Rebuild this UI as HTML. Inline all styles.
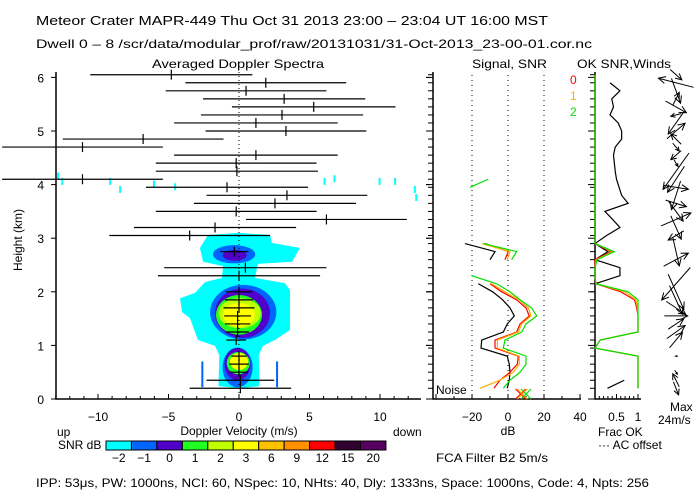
<!DOCTYPE html>
<html><head><meta charset="utf-8"><style>
body{margin:0;background:#fff}
svg{display:block;font-family:"Liberation Sans",sans-serif;font-size:12px}
</style></head><body>
<svg id="c" width="700" height="500" viewBox="0 0 700 500">
<g>
<text x="36" y="25" textLength="512" lengthAdjust="spacingAndGlyphs" font-size="13">Meteor Crater  MAPR-449  Thu Oct 31 2013 23:00 – 23:04 UT 16:00 MST</text>
<text x="36" y="48" textLength="556" lengthAdjust="spacingAndGlyphs">Dwell  0 –  8   /scr/data/modular_prof/raw/20131031/31-Oct-2013_23-00-01.cor.nc</text>
<text x="152" y="68" textLength="172" lengthAdjust="spacingAndGlyphs">Averaged Doppler Spectra</text>
<text x="472" y="68" textLength="75" lengthAdjust="spacingAndGlyphs">Signal, SNR</text>
<text x="577" y="68" textLength="94" lengthAdjust="spacingAndGlyphs">OK SNR,Winds</text>
</g>
<g id="spec"></g>
<g id="sig"></g>
<g id="ok"></g>
<g id="wind"></g>
<g id="cbar"></g>
<g>
<text x="239" y="435" text-anchor="middle">Doppler Velocity (m/s)</text>
<text x="57" y="436">up</text>
<text x="393" y="436">down</text>
<text x="58" y="449">SNR dB</text>
<text x="508" y="435" text-anchor="middle">dB</text>
<text x="436" y="462" textLength="112" lengthAdjust="spacingAndGlyphs">FCA Filter B2   5m/s</text>
<text x="598" y="436">Frac OK</text>
<text x="598" y="449">··· AC offset</text>
<text x="670" y="411">Max</text>
<text x="658" y="424">24m/s</text>
<text x="436" y="394">Noise</text>
<text x="570" y="84" fill="#ff0000">0</text>
<text x="570" y="100" fill="#ffb000">1</text>
<text x="570" y="116" fill="#00e000">2</text>
<text x="36" y="487" textLength="613" lengthAdjust="spacingAndGlyphs">IPP:  53μs,  PW: 1000ns,  NCI:  60,  NSpec: 10, NHts: 40,  Dly: 1333ns,  Space: 1000ns,  Code: 4,  Npts: 256</text>
<text transform="translate(22,240) rotate(-90)" text-anchor="middle">Height (km)</text>
</g>
</svg>
<script>
// ---- data ----
const gateHeights = [0.2,0.35,0.5,0.65,0.8,0.95,1.1,1.25,1.4,1.55,1.7,1.85,2.0,2.15,2.3,2.45,2.6,2.75,2.9,3.05,3.2,3.35,3.5,3.65,3.8,3.95,4.1,4.25,4.4,4.55,4.7,4.85,5.0,5.15,5.3,5.45,5.6,5.75,5.9,6.05];
const velMean = [0.1,0.1,0,0,0,null,-0.2,-0.1,-0.1,-0.1,0,0,0,null,0,0.45,null,-0.33,null,-3.5,-1.7,6.2,-0.2,2.55,3.4,-0.85,-11.1,-0.15,-0.2,1.2,-11.1,-6.8,3.33,1.2,3.05,5.3,3.2,0.5,1.9,-4.8];
const velHalfWidth = [3.6,2.4,0.65,0.7,0.55,null,0.7,0.8,0.9,0.95,1.1,1.0,0.95,null,5.75,5.75,null,1.0,null,5.7,5.75,5.7,5.7,5.75,5.7,5.75,5.7,5.75,5.7,5.8,5.7,5.7,5.7,5.8,5.75,5.8,5.75,5.7,5.7,5.75];
const velTicks = [-10,-5,0,5,10];
const heightTicks = [0,1,2,3,4,5,6];
const cyanContour = [[-2.2,3.06],[-0.07,3.1],[2.2,3.06],[2.34,2.91],[4.33,2.82],[3.76,2.56],[1.35,2.52],[1.13,2.26],[3.26,2.16],[3.62,2.03],[3.62,1.29],[2.55,1.1],[1.7,0.99],[1.4,0.82],[1.45,0.24],[0.07,0.2],[-1.45,0.24],[-1.4,0.82],[-1.7,0.99],[-2.91,1.1],[-3.48,1.51],[-4.04,1.62],[-4.18,1.88],[-3.12,1.98],[-2.41,2.18],[-1.21,2.26],[-1.13,2.48],[-2.55,2.56],[-2.77,2.82]];
// [v, h, rv, rh, level]
const blobs = [[-0.35,2.7,1.5,0.17,1],[-0.3,2.68,0.85,0.1,2],[0.3,1.62,2.35,0.51,1],[0.25,1.6,1.95,0.46,2],[0,1.57,1.63,0.37,3],[0.05,1.6,1.5,0.28,4],[0,1.57,1.13,0.22,5],[-0.1,0.59,1.07,0.37,1],[-0.1,0.65,0.92,0.3,2],[-0.05,0.67,0.82,0.21,3],[0,0.7,0.64,0.16,5]];
const specks = [[-12.9,4.15],[-12.6,4.05],[-9.2,4.05],[-6.1,4.0],[-8.5,3.9],[6.0,4.05],[6.7,4.1],[9.9,4.05],[11.0,4.05],[12.4,3.9],[12.5,3.75],[-4.6,3.95]];
const cbarLabels = ["-2","-1","0","1","2","3","6","9","12","15","20"];
const cbarColors = ["#00ffff","#0064ff","#5000c8","#20ff20","#c0ff00","#ffff00","#ffc000","#ff9000","#ff0000","#300030","#580060"];
const snrBlack = [-0.4,0.7,1.1,0.7,-0.4,-15,-14.6,-2.6,-0.4,3.5,1.1,-3,-8.5,-16.5,null,null,-10,-7.2,-23.9];
const snrRed = [-7.8,-4.5,1.1,5.2,5.7,-7.2,-7.2,4.8,6.7,11.8,10,4.8,-3.5,-10,null,null,-1.7,0.2,-12.8];
const snrOrange = [-15.6,-4.5,3,6.3,6.3,-5.9,-5.9,5.7,7.6,12.8,11.3,6.3,-1.7,-9.1,null,null,-0.4,1.1,-14.6];
const snrGreen = [-2.6,1.1,6.7,10,10,-2.6,-1.7,7.6,10,15.9,13.1,6.7,1.1,-6.3,-20.2,null,2,4.8,-13.7,null,null,null,null,null,null,-21.1,-11];
const noiseDb = [7,8,10];
const dbTicks = [-40,-30,-20,-10,0,10,20,30,40];
const dbLabels = [-20,0,20,40];
const fracGreen = [1,1,1,1,1,0,0.12,1,1,1,1,1,0.77,0.02,0,0,0.05,0.45,0,0,0,0,0,0,0,0,0,0,0,0,0,0,0,0,0,0,0,0,0,0];
const fracRed = [1,1,1,1,1,0,0.12,1,1,1,0.97,0.92,0.6,0.02,0,0,0,0.38,0,0,0,0,0,0,0,0,0,0,0,0,0,0,0,0,0,0,0,0,0,0];
const fracOrange = [1,1,1,1,1,0,0.12,1,1,1,0.99,0.95,0.7,0.02,0,0,0.03,0.42,0,0,0,0,0,0,0,0,0,0,0,0,0,0,0,0,0,0,0,0,0,0];
const fracBlack = [0.29,0.68,null,null,null,null,null,null,null,null,null,null,null,0,0.58,0.58,0,0.3,0,0.27,0.58,0.41,0.23,0.77,0.62,0.56,0.5,0.47,0.45,0.43,0.47,0.62,0.62,0.54,0.35,0.43,0.39,0.58,0.35,null];
const windU = [4,-5,2,null,2,null,10,14,12,18,15,10,12,-22,null,null,19,5,null,-12,8,23,11,16,-7,19,-13,-20,3,-8,5,-8,14,-12,-8,16,5,7,-27,9];
const windV = [-10,10,-3,null,0,null,12,10,8,0,-10,-22,-27,-25,null,null,10,-22,null,-7,-18,10,-15,-5,-22,-3,-20,-28,-5,-7,-6,8,12,-17,-2,-9,10,-19,7,-8];

// ---- scales ----
const xV = v => 239 + v*14.1;
const yH = h => 399 - h*53.6;
const xS = d => 508 + d*1.8;
const xF = f => 595 + f*43;
const NS = "http://www.w3.org/2000/svg";
function mk(parent, tag, attrs, text){
  const e = document.createElementNS(NS, tag);
  for (const k in attrs) e.setAttribute(k, attrs[k]);
  if (text !== undefined) e.textContent = text;
  parent.appendChild(e);
  return e;
}
const spec = document.getElementById('spec');
const sig = document.getElementById('sig');
const ok = document.getElementById('ok');
const wind = document.getElementById('wind');
const cbar = document.getElementById('cbar');

let el = mk(spec,'polygon',{points: cyanContour.map(p=>xV(p[0])+','+yH(p[1])).join(' '), fill:'#00ffff'});


specks.forEach(p=>{
  const s = mk(spec,'rect',{x:xV(p[0]),y:yH(p[1])-4,width:2,height:7,fill:'#00ffff'});
  
  
});
[-2.6,2.7].forEach(v=>{
  const s = mk(spec,'rect',{x:xV(v)-1,y:yH(0.7),width:2,height:yH(0.22)-yH(0.7),fill:'#0064ff'});
  
  
});
blobs.forEach(b=>{
  const e = mk(spec,'ellipse',{cx:xV(b[0]),cy:yH(b[1]),rx:b[2]*14.1,ry:b[3]*53.6,fill:cbarColors[b[4]]});
  
  
});
el = mk(spec,'line',{x1:xV(0),y1:72,x2:xV(0),y2:399,stroke:'#000','stroke-dasharray':'1,3'});


velMean.forEach((m,k)=>{
  if (m===null) return;
  const y = yH(gateHeights[k]), w = velHalfWidth[k];
  const g = mk(spec,'g',{stroke:'#000','stroke-width':1.2});
  
  
  mk(g,'line',{x1:Math.max(2,xV(m-w)),y1:y,x2:xV(m+w),y2:y});
  mk(g,'line',{x1:xV(m),y1:y-5,x2:xV(m),y2:y+5});
});
el = mk(spec,'path',{d:'M56,72V399H421',stroke:'#000',fill:'none','stroke-width':1.5});


heightTicks.forEach(h=>{
  mk(spec,'line',{x1:51,y1:yH(h),x2:56,y2:yH(h),stroke:'#000'});
  mk(spec,'line',{x1:426,y1:yH(h),x2:430,y2:yH(h),stroke:'#000'});
  const t = mk(spec,'text',{x:44,y:yH(h)+5,'text-anchor':'end'},String(h));
  
  
});
for (let v=-13; v<=12; v++){
  const major = v%5===0;
  mk(spec,'line',{x1:xV(v),y1:399,x2:xV(v),y2:major?394:396,stroke:'#000'});
}
velTicks.forEach(v=>{
  const t = mk(spec,'text',{x:xV(v),y:421,'text-anchor':'middle'},String(v).replace('-','−'));
  
  
});

el = mk(sig,'path',{d:'M433,72V399H581',stroke:'#000',fill:'none','stroke-width':1.5});


gateHeights.forEach(h=>mk(sig,'line',{x1:428,y1:yH(h),x2:433,y2:yH(h),stroke:'#000'}));
heightTicks.forEach(h=>mk(sig,'line',{x1:426,y1:yH(h),x2:433,y2:yH(h),stroke:'#000'}));
[-20,0,20].forEach(d=>mk(sig,'line',{x1:xS(d),y1:75,x2:xS(d),y2:399,stroke:'#000','stroke-dasharray':'1,4'}));
dbTicks.forEach(d=>mk(sig,'line',{x1:xS(d),y1:399,x2:xS(d),y2:d%20===0?394:396,stroke:'#000'}));
dbLabels.forEach(d=>{
  const t = mk(sig,'text',{x:xS(d),y:421,'text-anchor':'middle'},String(d).replace('-','−'));
  
  
});
function polyRuns(parent, arr, xf, color, name){
  let seg=[];
  const flush=()=>{ if(seg.length>1){ const p=mk(parent,'polyline',{points:seg.join(' '),fill:'none',stroke:color,'stroke-width':1.2});
    
     } seg=[]; };
  arr.forEach((d,k)=>{ if(d===null||d===undefined){flush();} else seg.push(xf(d)+','+yH(gateHeights[k])); });
  flush();
}
polyRuns(sig, snrBlack, xS, '#000', 'signal-line');
polyRuns(sig, snrRed, xS, '#ff0000', 'snr-line-0');
polyRuns(sig, snrOrange, xS, '#ffb000', 'snr-line-1');
polyRuns(sig, snrGreen, xS, '#00e000', 'snr-line-2');
const noiseColors = ['#ff0000','#ffb000','#00e000'];
noiseDb.forEach((d,i)=>{
  const x=xS(d), y=394;
  const g = mk(sig,'g',{stroke:noiseColors[i],'stroke-width':1.2});
  
  
  mk(g,'line',{x1:x-5,y1:y-5,x2:x+5,y2:y+5});
  mk(g,'line',{x1:x-5,y1:y+5,x2:x+5,y2:y-5});
});

el = mk(ok,'path',{d:'M595,72V399H641',stroke:'#000',fill:'none','stroke-width':1.5});


gateHeights.forEach(h=>mk(ok,'line',{x1:590,y1:yH(h),x2:595,y2:yH(h),stroke:'#000'}));
heightTicks.forEach(h=>mk(ok,'line',{x1:588,y1:yH(h),x2:595,y2:yH(h),stroke:'#000'}));
for(let i=0;i<=10;i++) mk(ok,'line',{x1:xF(i/10),y1:399,x2:xF(i/10),y2:i%5===0?394:396,stroke:'#000'});
[[0.5,'0.5'],[1,'1']].forEach(p=>{
  const t = mk(ok,'text',{x:xF(p[0]),y:421,'text-anchor':'middle'},p[1]);
  
  
});
polyRuns(ok, fracBlack, xF, '#000', 'snr-frac-line');
polyRuns(ok, fracRed, xF, '#ff0000', 'frac-ok-0');
polyRuns(ok, fracOrange, xF, '#ffb000', 'frac-ok-1');
polyRuns(ok, fracGreen, xF, '#00e000', 'frac-ok-2');

const wx = 676, ws = 1.3;
windU.forEach((u,k)=>{
  if (u===null) return;
  const v = windV[k], y = yH(gateHeights[k]);
  const x1 = wx - u*ws/2, y1 = y + v*ws/2, x2 = wx + u*ws/2, y2 = y - v*ws/2;
  const len = Math.hypot(x2-x1,y2-y1)||1, ux=(x2-x1)/len, uy=(y2-y1)/len;
  const g = mk(wind,'g',{stroke:'#000',fill:'none','stroke-width':1});
  
  
  mk(g,'line',{x1:x1,y1:y1,x2:x2,y2:y2});
  const hl = Math.min(7, len*0.4);
  const ax = x2 - ux*hl, ay = y2 - uy*hl;
  mk(g,'polyline',{points:(ax - uy*hl*0.5)+','+(ay + ux*hl*0.5)+' '+x2+','+y2+' '+(ax + uy*hl*0.5)+','+(ay - ux*hl*0.5)});
});

cbarColors.forEach((c,i)=>{
  const x = 106 + i*25.45;
  const r = mk(cbar,'rect',{x:x,y:441,width:25.45,height:9,fill:c,stroke:'#000','stroke-width':1});
  
  
  const t = mk(cbar,'text',{x:x+12.7,y:462,'text-anchor':'middle'},cbarLabels[i].replace('-','−'));
  
  
});
</script>
</body></html>
